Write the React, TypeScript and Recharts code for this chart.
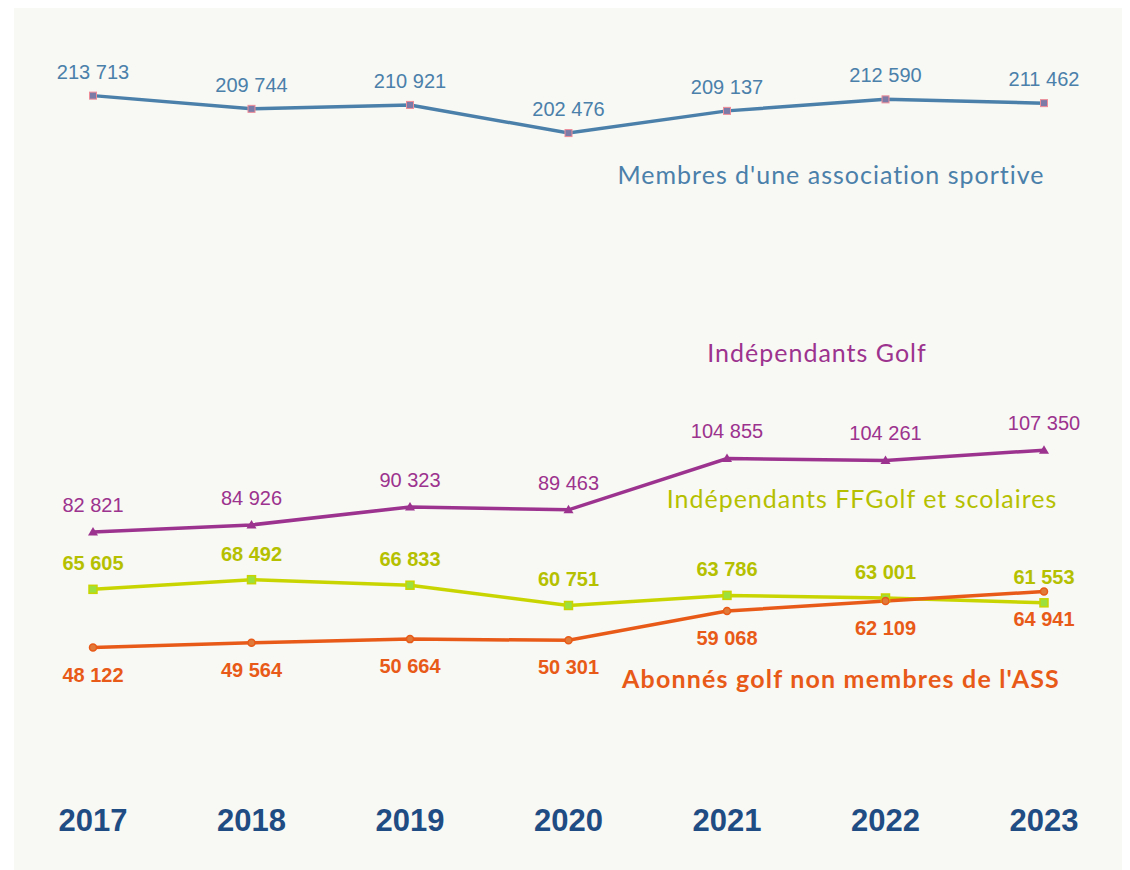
import React from "react";
import { LineChart, Line, XAxis, YAxis, LabelList } from "recharts";

const years = ["2017", "2018", "2019", "2020", "2021", "2022", "2023"];
const membresAS = [213713, 209744, 210921, 202476, 209137, 212590, 211462];
const independantsGolf = [82821, 84926, 90323, 89463, 104855, 104261, 107350];
const independantsFFGolf = [65605, 68492, 66833, 60751, 63786, 63001, 61553];
const abonnesGolf = [48122, 49564, 50664, 50301, 59068, 62109, 64941];

const data = years.map((year, i) => ({
  year,
  membres: membresAS[i],
  indGolf: independantsGolf[i],
  indFF: independantsFFGolf[i],
  abonnes: abonnesGolf[i],
}));

const BLUE = "#4a80aa";
const PURPLE = "#9c338e";
const GREEN_LINE = "#c9d500";
const GREEN_TEXT = "#b4c000";
const ORANGE = "#e85a17";
const YEAR_BLUE = "#1f4c83";
const NUM_FONT = "'Liberation Sans', Arial, sans-serif";
const NAME_FONT = "Lato, 'Open Sans', sans-serif";

const fmt = (v: number) => {
  const s = String(v);
  return s.length > 3 ? `${s.slice(0, s.length - 3)} ${s.slice(-3)}` : s;
};

function makeLabel(color: string, bold: boolean, dy: number) {
  return (props: any) => {
    const { x, y, value } = props;
    return (
      <text
        x={x}
        y={y + dy}
        textAnchor="middle"
        dominantBaseline="central"
        fill={color}
        fontFamily={NUM_FONT}
        fontSize={20}
        fontWeight={bold ? 700 : 400}
      >
        {fmt(value as number)}
      </text>
    );
  };
}

const SquareDot = (props: any) => {
  const { cx, cy } = props;
  return (
    <g>
      <rect x={cx - 3.5} y={cy - 3.5} width={7} height={7} fill="#7c7aa6" stroke="#ee8c98" strokeWidth={1} />
    </g>
  );
};

const TriangleDot = (props: any) => {
  const { cx, cy } = props;
  return <path d={`M${cx},${cy - 5} L${cx + 5},${cy + 3.5} L${cx - 5},${cy + 3.5} Z`} fill={PURPLE} />;
};

const GreenDot = (props: any) => {
  const { cx, cy } = props;
  return <rect x={cx - 4} y={cy - 4} width={8} height={8} fill="#9be03c" stroke={GREEN_LINE} strokeWidth={1.5} />;
};

const OrangeDot = (props: any) => {
  const { cx, cy } = props;
  return <circle cx={cx} cy={cy} r={3.5} fill="#e07a3a" stroke={ORANGE} strokeWidth={1.5} />;
};

const YearTick = (props: any) => {
  const { x, y, payload } = props;
  return (
    <text
      x={x}
      y={y}
      dy={4}
      textAnchor="middle"
      dominantBaseline="central"
      fill={YEAR_BLUE}
      fontFamily={NUM_FONT}
      fontWeight={700}
      fontSize={31}
    >
      {payload.value}
    </text>
  );
};

// series names written next to their lines
const names = [
  { text: "Membres d'une association sportive", color: BLUE, x: 817, y: 174, bold: false },
  { text: "Indépendants Golf", color: PURPLE, x: 803, y: 352, bold: false },
  { text: "Indépendants FFGolf et scolaires", color: GREEN_TEXT, x: 848, y: 498, bold: false },
  { text: "Abonnés golf non membres de l'ASS", color: ORANGE, x: 827, y: 678, bold: true },
];

export default function App() {
  return (
    <div
      style={{
        position: "relative",
        marginLeft: 6,
        width: 1109,
        height: 862,
        background: "#f8f8f4",
      }}
    >
      <LineChart width={1109} height={862} data={data} margin={{ top: 0, right: 0, bottom: 0, left: 0 }}>
        <XAxis
          dataKey="year"
          axisLine={false}
          tickLine={false}
          height={62}
          padding={{ left: 79, right: 79 }}
          interval={0}
          tick={<YearTick />}
        />
        <YAxis hide domain={[0, 240000]} />
        <Line
          dataKey="membres"
          stroke={BLUE}
          strokeWidth={3.5}
          dot={<SquareDot />}
          activeDot={false}
          isAnimationActive={false}
        >
          <LabelList dataKey="membres" content={makeLabel(BLUE, false, -24)} />
        </Line>
        <Line
          dataKey="indGolf"
          stroke={PURPLE}
          strokeWidth={3.5}
          dot={<TriangleDot />}
          activeDot={false}
          isAnimationActive={false}
        >
          <LabelList dataKey="indGolf" content={makeLabel(PURPLE, false, -27)} />
        </Line>
        <Line
          dataKey="indFF"
          stroke={GREEN_LINE}
          strokeWidth={3.5}
          dot={<GreenDot />}
          activeDot={false}
          isAnimationActive={false}
        >
          <LabelList dataKey="indFF" content={makeLabel(GREEN_TEXT, true, -26)} />
        </Line>
        <Line
          dataKey="abonnes"
          stroke={ORANGE}
          strokeWidth={3.5}
          dot={<OrangeDot />}
          activeDot={false}
          isAnimationActive={false}
        >
          <LabelList dataKey="abonnes" content={makeLabel(ORANGE, true, 27)} />
        </Line>
      </LineChart>
      {names.map((n) => (
        <div
          key={n.text}
          style={{
            position: "absolute",
            left: n.x,
            top: n.y - 8,
            transform: "translate(-50%, -50%)",
            whiteSpace: "nowrap",
            color: n.color,
            fontFamily: NAME_FONT,
            fontSize: 25,
            letterSpacing: n.bold ? 1.2 : 1,
            fontWeight: n.bold ? 700 : 400,
            lineHeight: 1,
          }}
        >
          {n.text}
        </div>
      ))}
    </div>
  );
}
